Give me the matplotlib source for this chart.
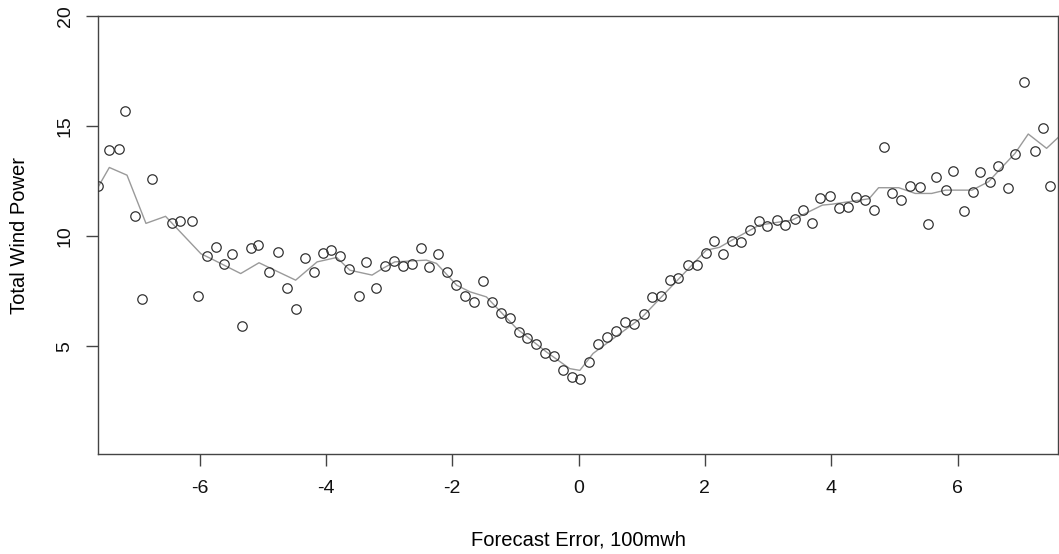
import matplotlib
matplotlib.use("Agg")
import matplotlib.pyplot as plt

# scatter: forecast error (100 mwh) vs total wind power
err = [-7.61, -7.44, -7.28, -7.18, -7.03, -6.92, -6.76, -6.44, -6.31, -6.12,
       -6.02, -5.89, -5.74, -5.62, -5.48, -5.33, -5.19, -5.07, -4.90, -4.76,
       -4.62, -4.48, -4.33, -4.19, -4.05, -3.92, -3.78, -3.63, -3.48, -3.36,
       -3.21, -3.06, -2.92, -2.78, -2.64, -2.50, -2.37, -2.23, -2.08, -1.94,
       -1.80, -1.66, -1.51, -1.37, -1.23, -1.09, -0.95, -0.81, -0.67, -0.53,
       -0.39, -0.25, -0.11, 0.03, 0.17, 0.31, 0.45, 0.60, 0.74, 0.88,
       1.03, 1.16, 1.31, 1.45, 1.58, 1.73, 1.87, 2.02, 2.15, 2.29,
       2.43, 2.57, 2.72, 2.86, 2.99, 3.14, 3.27, 3.42, 3.56, 3.69,
       3.83, 3.98, 4.12, 4.26, 4.39, 4.54, 4.68, 4.84, 4.97, 5.11,
       5.25, 5.40, 5.53, 5.66, 5.81, 5.93, 6.11, 6.24, 6.35, 6.51,
       6.64, 6.80, 6.91, 7.05, 7.22, 7.36, 7.46]
power = [12.27, 13.90, 13.95, 15.70, 10.90, 7.14, 12.60, 10.60, 10.71, 10.71,
         7.26, 9.09, 9.49, 8.73, 9.18, 5.92, 9.44, 9.58, 8.36, 9.27,
         7.64, 6.70, 9.00, 8.39, 9.23, 9.37, 9.08, 8.50, 7.29, 8.83,
         7.65, 8.65, 8.85, 8.64, 8.73, 9.47, 8.61, 9.17, 8.35, 7.76,
         7.27, 7.00, 7.98, 6.99, 6.51, 6.30, 5.64, 5.36, 5.08, 4.68,
         4.55, 3.90, 3.58, 3.53, 4.26, 5.08, 5.42, 5.70, 6.08, 6.03,
         6.45, 7.24, 7.29, 8.00, 8.12, 8.68, 8.68, 9.24, 9.80, 9.17,
         9.77, 9.74, 10.27, 10.71, 10.44, 10.73, 10.49, 10.76, 11.20, 10.58,
         11.74, 11.82, 11.27, 11.33, 11.76, 11.64, 11.17, 14.05, 11.98, 11.62,
         12.29, 12.21, 10.55, 12.70, 12.08, 12.95, 11.15, 11.99, 12.92, 12.47,
         13.17, 12.17, 13.73, 17.00, 13.85, 14.91, 12.30]

# smoothed curve (grey line)
smooth_x = [-7.60, -7.43, -7.15, -6.85, -6.54, -5.98, -5.80, -5.35, -5.06, -4.48,
            -4.14, -3.83, -3.62, -3.27, -3.09, -2.91, -2.41, -2.25, -1.93, -1.72,
            -1.46, -0.98, -0.51, -0.14, 0.02, 0.23, 1.00, 1.50, 2.02, 2.23,
            2.43, 2.86, 3.38, 3.86, 4.01, 4.60, 4.75, 5.07, 5.33, 5.59,
            5.81, 6.23, 6.49, 6.70, 6.91, 7.12, 7.41, 7.60]
smooth_y = [12.27, 13.12, 12.77, 10.58, 10.90, 9.20, 8.95, 8.30, 8.79, 8.00,
            8.83, 9.03, 8.45, 8.23, 8.55, 8.83, 8.91, 8.76, 7.77, 7.47,
            7.24, 5.80, 4.74, 3.98, 3.90, 4.67, 6.30, 7.80, 9.36, 9.49,
            9.82, 10.50, 10.73, 11.41, 11.45, 11.70, 12.20, 12.20, 11.94, 11.94,
            12.09, 12.09, 12.47, 13.12, 13.76, 14.64, 13.99, 14.50]

x_ticks = [-6, -4, -2, 0, 2, 4, 6]
y_ticks = [5, 10, 15, 20]

plt.rcParams["font.family"] = ["Liberation Sans", "DejaVu Sans"]
plt.rcParams["axes.unicode_minus"] = False

fig = plt.figure(figsize=(10.59, 5.54), dpi=100)
ax = fig.add_axes([0.0925, 0.1805, 0.9065, 0.7905])

ax.plot(smooth_x, smooth_y, color="#9a9a9a", lw=1.0, zorder=2)
ax.plot(err, power, ls="none", marker="o", ms=6.8, mfc="none",
        mec="#333333", mew=0.9, zorder=3)

ax.set_xlim(-7.61, 7.59)
ax.set_ylim(0.1, 20)
ax.set_xticks(x_ticks)
ax.set_yticks(y_ticks)
ax.set_yticklabels([str(v) for v in y_ticks], rotation=90, va="center")

for s in ax.spines.values():
    s.set_color("#444444")
    s.set_linewidth(1.0)
ax.tick_params(length=8.5, width=1.0, color="#444444", labelsize=14,
               labelcolor="#111111", pad=10)
ax.tick_params(axis="y", pad=9)

ax.set_xlabel("Forecast Error, 100mwh", fontsize=14.5, labelpad=24)
ax.set_ylabel("Total Wind Power", fontsize=14.5, labelpad=20)

fig.savefig("out.png", dpi=100)
